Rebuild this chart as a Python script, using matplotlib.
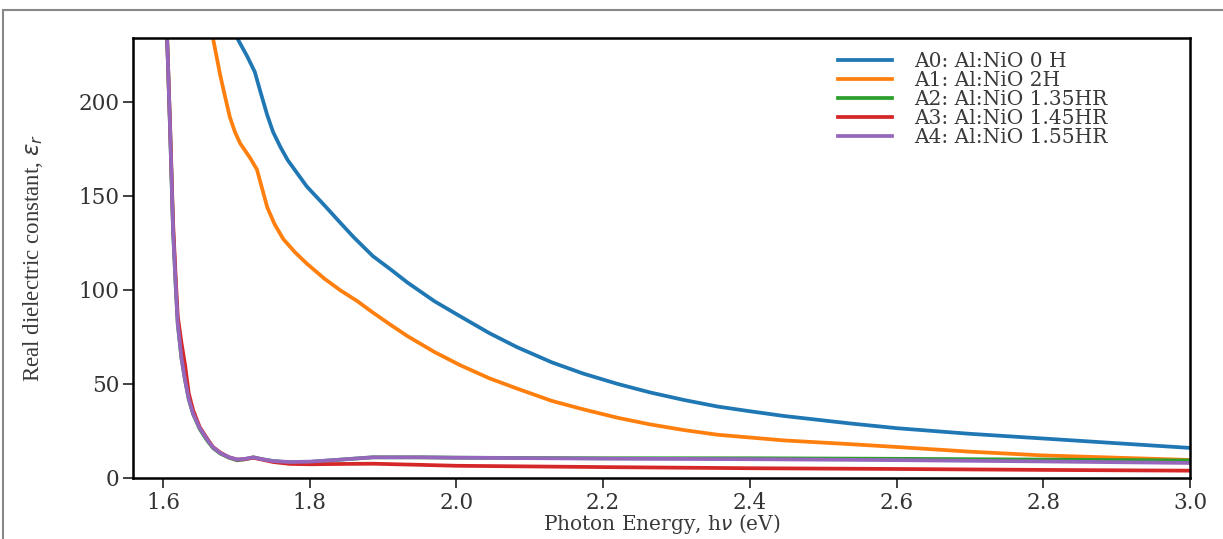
import numpy as np
import matplotlib.pyplot as plt
from matplotlib.patches import Rectangle

# photon energy (eV) and real dielectric constant
e_a0 = [1.701, 1.715, 1.725, 1.733, 1.742, 1.750, 1.760, 1.770, 1.796, 1.820, 1.841,
        1.860, 1.886, 1.910, 1.933, 1.970, 2.005, 2.045, 2.083, 2.130, 2.173, 2.220,
        2.264, 2.310, 2.356, 2.400, 2.446, 2.537, 2.60, 2.70, 2.80, 2.90, 3.00]
eps_a0 = [234, 224, 216, 205, 193, 184, 176, 169, 155, 145, 136,
          128, 118, 111, 104, 94, 86, 77, 69.5, 61.5, 55.5, 50,
          45.5, 41.5, 38, 35.5, 33, 29, 26.5, 23.5, 21, 18.5, 16]

e_a1 = [1.668, 1.673, 1.678, 1.685, 1.691, 1.698, 1.705, 1.712, 1.719, 1.728, 1.735,
        1.742, 1.752, 1.764, 1.780, 1.796, 1.820, 1.841, 1.865, 1.886, 1.910, 1.933,
        1.970, 2.005, 2.045, 2.083, 2.130, 2.173, 2.220, 2.264, 2.310, 2.356, 2.446,
        2.537, 2.60, 2.70, 2.80, 2.90, 3.00]
eps_a1 = [234, 224, 214, 202, 192, 184, 178, 174, 170, 164, 154,
          144, 135, 127, 120, 114, 106, 100, 94, 88, 81.5, 75.5,
          67, 60, 53, 47.5, 41, 36.5, 32, 28.5, 25.5, 23, 20,
          18, 16.5, 14, 12, 10.8, 9.6]

e_low = [1.6055, 1.6096, 1.6136, 1.6175, 1.620, 1.625, 1.630, 1.635, 1.641, 1.650,
         1.660, 1.668, 1.678, 1.690, 1.701, 1.712, 1.723, 1.735, 1.750, 1.773,
         1.80, 1.85, 1.886, 1.95, 2.00, 2.20, 2.40, 2.60, 2.80, 3.00]
eps_a2 = [234, 185, 132, 100, 82, 64, 52, 42, 34, 26,
          20, 16, 13, 10.8, 9.4, 10, 11, 10, 9, 8.3,
          8.5, 10, 11, 11, 10.8, 10.5, 10.5, 10.2, 9.8, 9.3]
eps_a3 = [234, 187, 136, 104, 86, 72, 60, 45, 36, 27,
          21, 16.5, 13.5, 11, 9.8, 10, 10.8, 9.8, 8.5, 7.5,
          7.3, 7.5, 7.6, 7.0, 6.5, 5.8, 5.2, 4.8, 4.3, 3.9]
eps_a4 = [234, 185, 132, 100, 82, 64, 52, 42, 34, 26.5,
          20.5, 16.3, 13.3, 11, 9.8, 10.2, 11, 10, 9, 8.5,
          8.7, 10, 11, 11, 10.8, 10.3, 10.0, 9.5, 8.8, 8.0]

labels = ['A0: Al:NiO 0 H', 'A1: Al:NiO 2H', 'A2: Al:NiO 1.35HR',
          'A3: Al:NiO 1.45HR', 'A4: Al:NiO 1.55HR']
colors = ['#1f77b4', '#ff7f0e', '#2ca02c', '#d62728', '#9467bd']

xticks = [1.6, 1.8, 2.0, 2.2, 2.4, 2.6, 2.8, 3.0]
yticks = [0, 50, 100, 150, 200]

W, H = 1223, 539
fig = plt.figure(figsize=(W / 100, H / 100), dpi=100)
ax = fig.add_axes([133 / W, 1 - 478 / H, (1190 - 133) / W, (478 - 38) / H])

series = [(e_a0, eps_a0), (e_a1, eps_a1), (e_low, eps_a2), (e_low, eps_a3), (e_low, eps_a4)]
for (x, y), lab, c in zip(series, labels, colors):
    ax.plot(x, y, color=c, lw=2.7, label=lab)

ax.set_xlim(1.559, 3.0)
ax.set_ylim(0, 234)
ax.set_xticks(xticks)
ax.set_yticks(yticks)
txt = '#3a3a3a'
ax.set_xticklabels([f'{t:.1f}' for t in xticks], family='DejaVu Serif', fontsize=15.5, color=txt)
ax.set_yticklabels([str(t) for t in yticks], family='DejaVu Serif', fontsize=15.5, color=txt)
ax.tick_params(direction='out', length=7, width=1.3, colors='#333333', pad=3)
for s in ax.spines.values():
    s.set_linewidth(1.8)

ax.set_xlabel(r'Photon Energy, h$\nu$ (eV)', family='DejaVu Serif', fontsize=14.5,
              color=txt, labelpad=-1)
ax.set_ylabel(r'Real dielectric constant, $\varepsilon_r$', family='Liberation Serif',
              fontsize=16.5, color=txt, labelpad=24)

leg = ax.legend(loc='upper left', bbox_to_anchor=((838 - 133) / 1057, (478 - 52) / 440),
                frameon=False, handlelength=2.7, handletextpad=1.1,
                labelspacing=0.0, borderaxespad=0, borderpad=0,
                prop={'family': 'DejaVu Serif', 'size': 14.5})
for t in leg.get_texts():
    t.set_color(txt)

# outer frame of the cropped figure
fig.patches.append(Rectangle((3 / W, -0.01), 1.02, 1 - 10 / H + 0.01,
                             transform=fig.transFigure, fill=False,
                             edgecolor='#888888', lw=1.5))

fig.savefig('out.png', dpi=100)
